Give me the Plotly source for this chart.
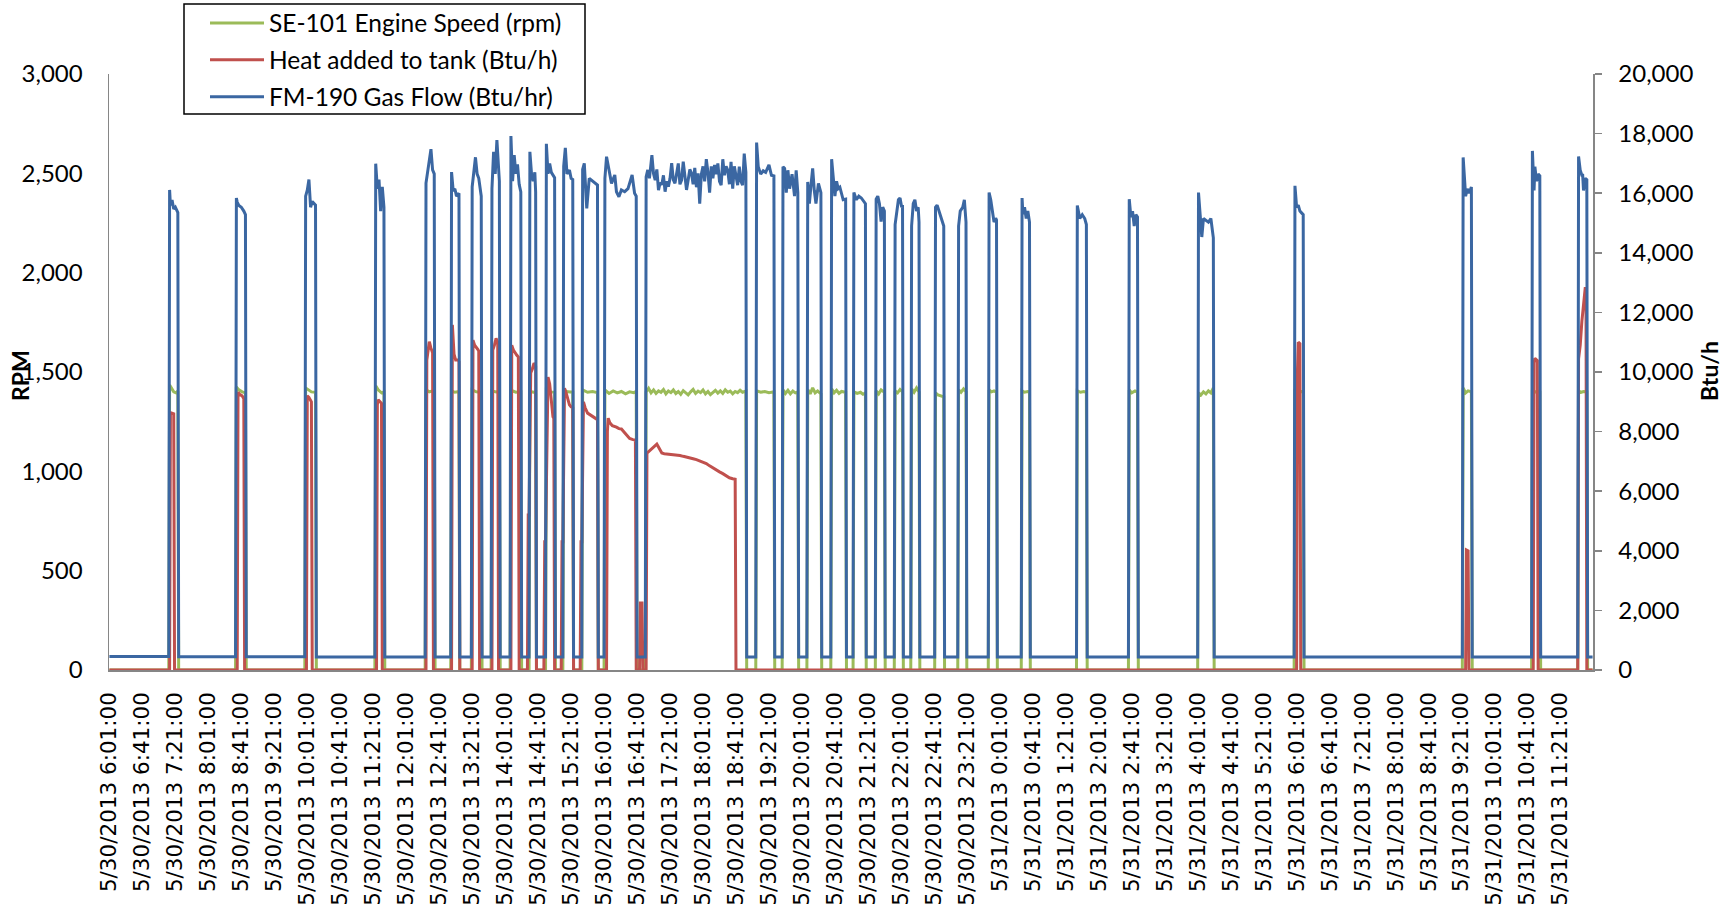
import pandas as pd
import plotly.graph_objects as go

# ---------------------------------------------------------------- data
START = pd.Timestamp("2013-05-30 06:01:00")   # minute 0
LAST_MINUTE = 1799                               # last logged minute (5/31 12:00)

tick_labels = [
    "5/30/2013 6:01:00", "5/30/2013 6:41:00", "5/30/2013 7:21:00", "5/30/2013 8:01:00",
    "5/30/2013 8:41:00", "5/30/2013 9:21:00", "5/30/2013 10:01:00", "5/30/2013 10:41:00",
    "5/30/2013 11:21:00", "5/30/2013 12:01:00", "5/30/2013 12:41:00", "5/30/2013 13:21:00",
    "5/30/2013 14:01:00", "5/30/2013 14:41:00", "5/30/2013 15:21:00", "5/30/2013 16:01:00",
    "5/30/2013 16:41:00", "5/30/2013 17:21:00", "5/30/2013 18:01:00", "5/30/2013 18:41:00",
    "5/30/2013 19:21:00", "5/30/2013 20:01:00", "5/30/2013 20:41:00", "5/30/2013 21:21:00",
    "5/30/2013 22:01:00", "5/30/2013 22:41:00", "5/30/2013 23:21:00", "5/31/2013 0:01:00",
    "5/31/2013 0:41:00", "5/31/2013 1:21:00", "5/31/2013 2:01:00", "5/31/2013 2:41:00",
    "5/31/2013 3:21:00", "5/31/2013 4:01:00", "5/31/2013 4:41:00", "5/31/2013 5:21:00",
    "5/31/2013 6:01:00", "5/31/2013 6:41:00", "5/31/2013 7:21:00", "5/31/2013 8:01:00",
    "5/31/2013 8:41:00", "5/31/2013 9:21:00", "5/31/2013 10:01:00", "5/31/2013 10:41:00",
    "5/31/2013 11:21:00",
]

# burner cycles: first "on" minute and first "off" minute (minutes after START)
cycle_start = [73, 154, 238, 323, 384, 415, 440, 464, 487, 510, 530, 551, 574, 601, 651,
               785, 817, 847, 876, 903, 930, 953, 973, 1002, 1030, 1067, 1107, 1174, 1237,
               1321, 1438, 1642, 1726, 1782]
cycle_end = [84, 166, 251, 334, 395, 425, 452, 474, 500, 518, 541, 563, 593, 640, 773,
             807, 836, 864, 894, 918, 941, 963, 983, 1013, 1040, 1077, 1117, 1186, 1248,
             1340, 1449, 1653, 1736, 1793]

# FM-190 gas flow while idle (one value per off period), Btu/hr
gas_idle_btuh = [450, 445, 445, 440, 440, 440, 440, 440, 440, 440, 440, 440, 440, 440, 440,
                 440, 440, 440, 440, 440, 440, 440, 440, 440, 440, 440, 440, 440, 440, 440,
                 440, 440, 440, 440, 440]

# FM-190 gas flow while firing (minute, Btu/hr), one list per cycle
gas_on_btuh = [
    [(73, 16110), (74, 15590), (76, 15775), (78, 15466), (80, 15530), (82, 15400), (83, 15350)],
    [(154, 15840), (155, 15700), (157, 15590), (160, 15530), (163, 15400), (165, 15280)],
    [(238, 15900), (240, 16100), (242, 16460), (244, 15530), (246, 15720), (249, 15650), (250, 15600)],
    [(323, 16990), (325, 16150), (327, 16460), (329, 15400), (331, 16210), (333, 15530)],
    [(384, 16340), (386, 16780), (388, 17050), (390, 17480), (392, 16780), (394, 16650)],
    [(415, 16710), (417, 16080), (419, 16150), (421, 15900), (423, 15960), (424, 16000)],
    [(440, 16210), (442, 16700), (444, 17205), (446, 16650), (448, 16500), (451, 15900)],
    [(464, 16150), (466, 17390), (468, 16650), (470, 17785), (472, 16900), (473, 16400)],
    [(487, 17920), (489, 16400), (491, 17280), (493, 16650), (495, 16970), (497, 16300), (499, 16040)],
    [(510, 17390), (512, 16650), (514, 16400), (516, 16700), (517, 16040)],
    [(530, 17660), (532, 16650), (534, 17000), (536, 16700), (540, 16520)],
    [(551, 16900), (553, 17520), (555, 16650), (558, 16780), (560, 16500), (562, 16460)],
    [(574, 16800), (576, 17000), (579, 15490), (582, 16500), (585, 16440), (589, 16330), (592, 16275)],
    [(601, 16500), (603, 17225), (606, 16780), (609, 16330), (613, 16610), (615, 16050), (618, 15880),
     (621, 16110), (625, 16050), (629, 16150), (634, 16610), (637, 16000), (639, 15900)],
    [(651, 16550), (653, 16780), (655, 16500), (658, 17280), (660, 16650), (662, 16440), (664, 16800),
     (666, 16100), (668, 16350), (670, 16280), (672, 16600), (674, 16050), (676, 16400), (678, 16220),
     (680, 16500), (682, 17010), (684, 16450), (686, 16330), (688, 16700), (690, 17000), (692, 16300),
     (694, 16440), (696, 17060), (698, 16500), (700, 16110), (702, 16440), (704, 16800), (706, 16670),
     (708, 16300), (710, 16850), (712, 16200), (714, 16670), (716, 15650), (718, 16640), (720, 16900),
     (722, 16400), (724, 17140), (726, 16700), (728, 16020), (730, 16900), (732, 16500), (734, 16950),
     (736, 16640), (738, 17000), (740, 16400), (742, 16270), (744, 17140), (746, 16600), (748, 16900),
     (750, 16770), (752, 16300), (754, 17050), (756, 16150), (758, 16900), (760, 16500), (762, 16270),
     (764, 16890), (766, 16400), (768, 16270), (770, 17330), (772, 16700)],
    [(785, 17700), (787, 16890), (790, 16640), (793, 16750), (796, 16700), (800, 16950), (803, 16600), (806, 16580)],
    [(817, 16890), (819, 16830), (821, 16020), (823, 16770), (825, 16150), (828, 16640), (831, 15900),
     (833, 16770), (835, 16020)],
    [(847, 16380), (849, 15650), (851, 16270), (853, 16830), (855, 16090), (857, 15650), (860, 16330), (863, 16020)],
    [(876, 17140), (878, 16400), (880, 15900), (882, 16400), (884, 16150), (886, 16200), (888, 16000),
     (890, 15780), (893, 15800)],
    [(903, 16020), (906, 15780), (909, 15900), (912, 15840), (915, 15700), (917, 15650)],
    [(930, 15800), (932, 15900), (934, 15650), (936, 15050), (938, 15530), (940, 15400)],
    [(953, 14950), (955, 15400), (957, 15780), (959, 15840), (961, 15530), (962, 15600)],
    [(973, 14900), (975, 15650), (977, 15780), (979, 15400), (981, 15530), (982, 15030)],
    [(1002, 15530), (1004, 15600), (1006, 15400), (1009, 15160), (1012, 14900)],
    [(1030, 14900), (1032, 15400), (1035, 15530), (1037, 15780), (1039, 15030)],
    [(1067, 16020), (1069, 15780), (1071, 15400), (1073, 15030), (1075, 15160), (1076, 15100)],
    [(1107, 15840), (1108, 15300), (1110, 15530), (1112, 15150), (1114, 15400), (1116, 15030)],
    [(1174, 15590), (1177, 15150), (1180, 15280), (1183, 15150), (1185, 14950)],
    [(1237, 15800), (1239, 15200), (1241, 15400), (1243, 14900), (1245, 15280), (1247, 15200)],
    [(1321, 16020), (1323, 15280), (1325, 14530), (1327, 15150), (1330, 15100), (1333, 15030),
     (1336, 15150), (1338, 14750), (1339, 14500)],
    [(1438, 16250), (1440, 15530), (1442, 15600), (1444, 15400), (1446, 15340), (1448, 15280)],
    [(1642, 17200), (1644, 16400), (1645, 15900), (1647, 16150), (1649, 16000), (1652, 16210)],
    [(1726, 17420), (1728, 16090), (1729, 16890), (1731, 16400), (1733, 16640), (1735, 16580)],
    [(1782, 17230), (1784, 16770), (1786, 16600), (1787, 16600), (1788, 16090), (1790, 16500), (1792, 16450)],
]

# SE-101 engine speed while running (minute, rpm), one list per cycle; 0 rpm when off
speed_idle_rpm = 0
speed_on_rpm = [
    [(73, 1435), (75, 1420), (78, 1400), (81, 1395), (83, 1405)],
    [(154, 1425), (157, 1410), (161, 1400), (165, 1395)],
    [(238, 1420), (241, 1410), (245, 1400), (250, 1398)],
    [(323, 1430), (326, 1410), (330, 1395), (333, 1400)],
    [(384, 1410), (388, 1400), (392, 1405), (394, 1398)],
    [(415, 1405), (419, 1398), (424, 1402)],
    [(440, 1410), (445, 1400), (451, 1398)],
    [(464, 1405), (469, 1400), (473, 1402)],
    [(487, 1408), (493, 1398), (499, 1400)],
    [(510, 1405), (514, 1398), (517, 1400)],
    [(530, 1410), (535, 1400), (540, 1398)],
    [(551, 1408), (556, 1400), (562, 1398)],
    [(574, 1410), (580, 1398), (586, 1402), (592, 1396)],
    [(601, 1410), (606, 1392), (611, 1405), (616, 1395), (621, 1402), (626, 1390), (631, 1400),
     (636, 1396), (639, 1402)],
    [(651, 1400), (654, 1418), (657, 1395), (660, 1410), (663, 1392), (666, 1405), (669, 1398),
     (672, 1412), (675, 1390), (678, 1404), (681, 1396), (684, 1410), (687, 1392), (690, 1402),
     (693, 1388), (696, 1406), (699, 1394), (702, 1385), (705, 1400), (708, 1412), (711, 1392),
     (714, 1404), (717, 1396), (720, 1410), (723, 1390), (726, 1402), (729, 1386), (732, 1398),
     (735, 1408), (738, 1394), (741, 1405), (744, 1392), (747, 1410), (750, 1398), (753, 1404),
     (756, 1390), (759, 1402), (762, 1396), (765, 1408), (768, 1398), (772, 1404)],
    [(785, 1405), (790, 1398), (795, 1402), (800, 1396), (806, 1400)],
    [(817, 1410), (820, 1392), (823, 1408), (826, 1390), (829, 1404), (832, 1395), (835, 1400)],
    [(847, 1412), (850, 1390), (853, 1420), (856, 1395), (859, 1405), (863, 1390)],
    [(876, 1415), (879, 1395), (882, 1408), (885, 1392), (888, 1402), (893, 1398)],
    [(903, 1400), (907, 1392), (911, 1398), (914, 1388), (917, 1395)],
    [(930, 1405), (933, 1390), (936, 1410), (940, 1398)],
    [(953, 1405), (956, 1395), (959, 1412), (962, 1400)],
    [(973, 1415), (976, 1398), (979, 1420), (982, 1400)],
    [(1002, 1395), (1005, 1385), (1008, 1380), (1012, 1375)],
    [(1030, 1410), (1033, 1398), (1036, 1415), (1039, 1400)],
    [(1067, 1410), (1070, 1400), (1073, 1405), (1076, 1398)],
    [(1107, 1405), (1110, 1398), (1114, 1402), (1116, 1400)],
    [(1174, 1405), (1178, 1398), (1182, 1402), (1185, 1398)],
    [(1237, 1410), (1240, 1395), (1244, 1405), (1247, 1398)],
    [(1321, 1395), (1324, 1385), (1327, 1400), (1330, 1390), (1333, 1405), (1336, 1395), (1339, 1420)],
    [(1438, 1405), (1442, 1398), (1446, 1402), (1448, 1400)],
    [(1642, 1420), (1645, 1395), (1648, 1405), (1652, 1400)],
    [(1726, 1410), (1729, 1398), (1732, 1405), (1735, 1400)],
    [(1782, 1405), (1785, 1398), (1788, 1402), (1792, 1400)],
]

# Heat added to tank (minute, Btu/h)
heat_btuh = [
    (0, 0),
    (73, 0), (74, 8640), (76, 8620), (78, 8600), (79, 0),
    (155, 0), (156, 9320), (158, 9250), (161, 9200), (163, 9100), (164, 0),
    (239, 0), (240, 9200), (242, 9150), (245, 9000), (246, 0),
    (324, 0), (325, 8900), (326, 9070), (329, 9000), (330, 8950), (331, 0),
    (384, 0), (385, 10400), (387, 10900), (388, 11020), (390, 10800), (392, 10650), (393, 0),
    (415, 0), (416, 11580), (417, 11000), (418, 10600), (420, 10400), (423, 10400), (424, 10350), (425, 0),
    (440, 0), (441, 11070), (443, 10900), (445, 10840), (447, 10750), (448, 10700), (449, 0),
    (464, 0), (465, 10740), (467, 10900), (469, 11130), (471, 11000), (472, 0),
    (487, 0), (488, 10900), (490, 10740), (492, 10630), (494, 10570), (496, 10500), (497, 0),
    (507, 0), (508, 5200), (509, 5200), (511, 9970), (513, 10100), (515, 10300), (517, 10200), (518, 0),
    (527, 0), (528, 4300), (529, 4300), (531, 9000), (532, 9830), (534, 9600), (536, 9000), (538, 8500),
    (539, 8450), (540, 0),
    (548, 0), (549, 4300), (550, 4300), (552, 9450), (554, 9300), (556, 9060), (558, 8900), (560, 8830),
    (562, 8800), (563, 0),
    (571, 0), (572, 4300), (573, 4300), (575, 9000), (577, 8800), (580, 8620), (583, 8570), (586, 8500),
    (590, 8450), (592, 8400), (593, 0),
    (603, 0), (604, 8000), (605, 8450), (607, 8300), (610, 8200), (615, 8150), (618, 8100), (621, 8087),
    (625, 7950), (628, 7850), (631, 7770), (635, 7730), (638, 7720), (639, 0),
    (643, 0), (644, 2250), (646, 2250), (647, 0),
    (651, 0), (652, 7280), (655, 7350), (658, 7450), (661, 7520), (664, 7580), (666, 7480), (668, 7400),
    (670, 7280), (673, 7260), (676, 7250), (680, 7260), (684, 7230), (688, 7215), (692, 7200),
    (696, 7170), (700, 7150), (704, 7120), (708, 7090), (712, 7060), (716, 7020), (720, 6980),
    (724, 6930), (728, 6850), (732, 6780), (736, 6700), (740, 6650), (744, 6590), (748, 6530),
    (752, 6450), (756, 6420), (759, 6400), (760, 0),
    (1440, 0), (1441, 10000), (1442, 11000), (1444, 10950), (1445, 0),
    (1645, 0), (1646, 4030), (1648, 4000), (1649, 0),
    (1727, 0), (1728, 10300), (1729, 10460), (1731, 10400), (1732, 10380), (1733, 0),
    (1781, 0), (1782, 10440), (1784, 10900), (1786, 11700), (1788, 12400), (1790, 12800), (1791, 12800),
    (1792, 0),
    (1799, 0),
]


# ---------------------------------------------------------------- build series
def cycle_series(on_lists, idle_vals):
    t, v = [], []
    for k, pts in enumerate(on_lists):
        a = 0 if k == 0 else cycle_end[k - 1]
        b = cycle_start[k] - 1
        t += [a, b]
        v += [idle_vals[k], idle_vals[k]]
        for m, val in pts:
            t.append(m)
            v.append(val)
    t += [cycle_end[-1], LAST_MINUTE]
    v += [idle_vals[-1], idle_vals[-1]]
    return t, v


def to_time(minutes):
    return START + pd.to_timedelta(minutes, unit="min")


gas_t, gas_v = cycle_series(gas_on_btuh, gas_idle_btuh)
spd_t, spd_v = cycle_series(speed_on_rpm, [speed_idle_rpm] * (len(cycle_start) + 1))
heat_t = [p[0] for p in heat_btuh]
heat_v = [p[1] for p in heat_btuh]

tick_vals = pd.to_datetime(tick_labels, format="%m/%d/%Y %H:%M:%S")

GREEN, RED, BLUE = "#9BBB59", "#C0504D", "#3B67A2"
AXIS = "#868686"
LW = 3

fig = go.Figure()
fig.add_trace(go.Scatter(x=to_time(spd_t), y=spd_v, mode="lines", name="SE-101 Engine Speed (rpm)",
                         line=dict(color=GREEN, width=LW), yaxis="y", legendgroup="a"))
fig.add_trace(go.Scatter(x=to_time(heat_t), y=heat_v, mode="lines", name="Heat added to tank (Btu/h)",
                         line=dict(color=RED, width=LW), yaxis="y2", legendgroup="b"))
fig.add_trace(go.Scatter(x=to_time(gas_t), y=gas_v, mode="lines", name="FM-190 Gas Flow (Btu/hr)",
                         line=dict(color=BLUE, width=LW), yaxis="y2", legendgroup="c"))

L, R, T, B = 109, 142, 74, 237
W, H = 1735, 907
pw, ph = W - L - R, H - T - B


def px_x(x):
    return (x - L) / pw


def px_y(y):
    return (H - B - y) / ph


tick_font = dict(family="Lato", size=24, color="black")

fig.update_layout(
    width=W, height=H,
    margin=dict(l=L, r=R, t=T, b=B, autoexpand=False),
    paper_bgcolor="white", plot_bgcolor="white",
    hovermode=False,
    legend=dict(x=px_x(205), y=px_y(0.5), xanchor="left", yanchor="top",
                borderwidth=0, bgcolor="rgba(0,0,0,0)",
                font=dict(family="Lato", size=24.5, color="black"),
                itemwidth=54, tracegroupgap=2),
    shapes=[dict(type="rect", xref="paper", yref="paper",
                 x0=px_x(184), x1=px_x(585), y0=px_y(114), y1=px_y(4),
                 line=dict(color="black", width=1.5), fillcolor="white", layer="below")],
    xaxis=dict(type="date",
               range=[START - pd.Timedelta(seconds=30), START + pd.Timedelta(minutes=LAST_MINUTE, seconds=30)],
               tickmode="array", tickvals=tick_vals, ticktext=tick_labels, tickangle=-90,
               tickfont=dict(family="DejaVu Sans", size=21.5, color="black"),
               showline=True, linecolor=AXIS, linewidth=1.5, showgrid=False, zeroline=False,
               ticks="", ticklabelstandoff=12, layer="below traces"),
    yaxis=dict(range=[0, 3000], dtick=500, tickformat=",", showgrid=False, zeroline=False,
               showline=True, linecolor=AXIS, linewidth=1.5, ticks="", ticklabelstandoff=20,
               tickfont=tick_font),
    yaxis2=dict(overlaying="y", side="right", range=[0, 20000], dtick=2000, tickformat=",",
                showgrid=False, zeroline=False, showline=True, linecolor=AXIS, linewidth=1.5,
                ticks="outside", ticklen=7, tickcolor=AXIS, tickwidth=1.5, ticklabelstandoff=12,
                tickfont=tick_font),
    annotations=[
        dict(text="<b>RPM</b>", xref="paper", yref="paper", x=px_x(20), y=px_y(376),
             textangle=-90, showarrow=False, font=dict(family="Lato", size=23, color="black"),
             xanchor="center", yanchor="middle"),
        dict(text="<b>Btu/h</b>", xref="paper", yref="paper", x=px_x(1709), y=px_y(371),
             textangle=-90, showarrow=False, font=dict(family="Lato", size=23, color="black"),
             xanchor="center", yanchor="middle"),
    ],
)

fig.write_html("out.html",
               config={"displayModeBar": False, "staticPlot": True},
               post_script="document.body.style.margin='0';document.body.style.overflow='hidden';")
